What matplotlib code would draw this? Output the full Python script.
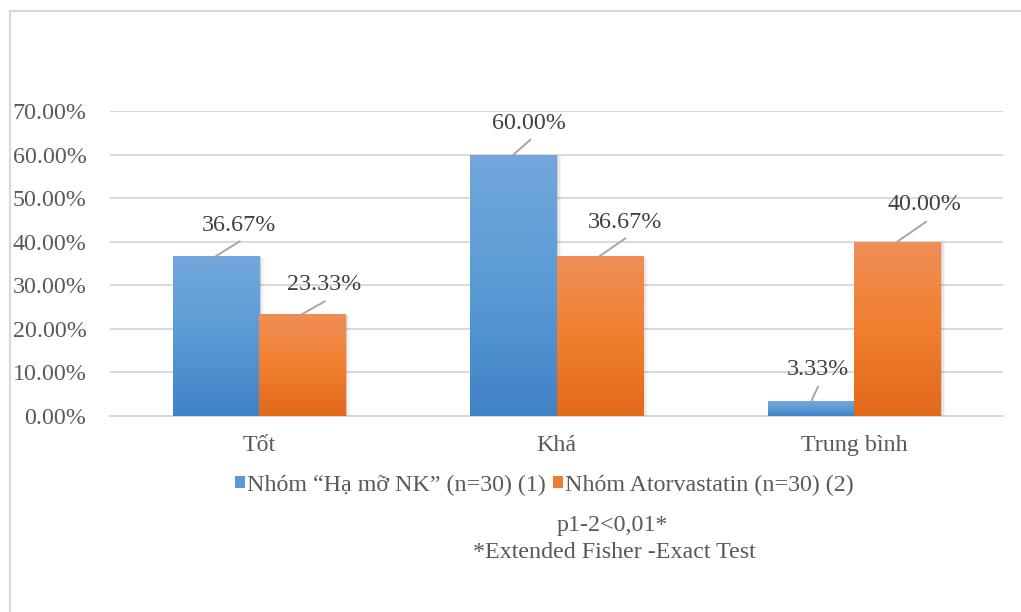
import matplotlib
matplotlib.use("Agg")
import matplotlib.pyplot as plt
import numpy as np
from matplotlib.colors import LinearSegmentedColormap
from matplotlib.lines import Line2D
from matplotlib.patches import Patch, Rectangle
from matplotlib.ticker import PercentFormatter

# ---- data ----
categories = ["Tốt", "Khá", "Trung bình"]
series_names = ["Nhóm “Hạ mỡ NK” (n=30) (1)", "Nhóm Atorvastatin (n=30) (2)"]
group_nk = [36.67, 60.00, 3.33]
group_atorva = [23.33, 36.67, 40.00]
y_ticks = [0, 10, 20, 30, 40, 50, 60, 70]
footnote_lines = ["p1-2<0,01*", "*Extended Fisher -Exact Test"]

# ---- style ----
FONT = "Liberation Serif"
plt.rcParams["font.family"] = [FONT, "DejaVu Serif"]
FS = 17.3
TICK_COLOR = "#595959"
LABEL_COLOR = "#404040"
GRID_COLOR = "#d9d9d9"
blue_stops = ["#3f82c6", "#5b9bd5", "#73a7dc"]     # bottom -> top
orange_stops = ["#e2691a", "#f07f2e", "#f08e58"]
flat_colors = ["#5b9bd5", "#ed7d31"]

# label text centre / leader end offsets (pixels from bar top centre)
text_offsets = [[(23, 31), (15, 31), (7, 32)], [(22, 30), (25, 34), (27, 37)]]
leader_offsets = [[(24, 15), (17, 15), (7, 15)], [(23, 13), (26, 18), (29, 20)]]

W, H, DPI = 1021, 612, 100
fig = plt.figure(figsize=(W / DPI, H / DPI), dpi=DPI)
ax = fig.add_axes([110 / W, 1 - 416 / H, (1003 - 110) / W, (416 - 111) / H])

x = np.arange(len(categories))
bw = 0.289
series = [group_nk, group_atorva]
gradients = [blue_stops, orange_stops]
grad_img = np.linspace(0, 1, 256).reshape(-1, 1)

for si, vals in enumerate(series):
    cmap = LinearSegmentedColormap.from_list(f"g{si}", gradients[si])
    xs = x + (si - 0.5) * bw
    bars = ax.bar(xs, vals, width=bw, color=flat_colors[si], zorder=3)
    for bi, b in enumerate(bars):
        x0, h = b.get_x(), b.get_height()
        # soft shadow on the right
        for k, a in enumerate([0.10, 0.06, 0.03]):
            off = (k + 1) * 0.006
            ax.add_patch(Rectangle((x0 + off, -0.15), bw, h + 0.15 - off * 20,
                                   facecolor="#000000", alpha=a, lw=0, zorder=2))
        im = ax.imshow(grad_img, cmap=cmap, origin="lower", aspect="auto",
                       extent=(x0, x0 + bw, 0, h), zorder=4, interpolation="bicubic")
        im.set_clip_path(b)
        # value label with leader line
        xc = x0 + bw / 2
        lx, ly = leader_offsets[si][bi]
        ax.annotate("", xy=(xc, h), xytext=(lx, ly), textcoords="offset pixels",
                    arrowprops=dict(arrowstyle="-", color="#a6a6a6", lw=1.4,
                                    shrinkA=0, shrinkB=0), zorder=5)
        tx, ty = text_offsets[si][bi]
        ax.annotate(f"{vals[bi]:.2f}%", xy=(xc, h), xytext=(tx, ty),
                    textcoords="offset pixels", ha="center", va="center",
                    fontsize=FS, color=LABEL_COLOR, zorder=6)

ax.set_xlim(-0.5, len(categories) - 0.5)
ax.set_ylim(0, 70)
ax.set_yticks(y_ticks)
ax.yaxis.set_major_formatter(PercentFormatter(decimals=2))
ax.set_xticks(x)
ax.set_xticklabels(categories)
ax.tick_params(axis="y", length=0, pad=17, labelsize=FS, labelcolor=TICK_COLOR)
ax.tick_params(axis="x", length=0, pad=14, labelsize=FS, labelcolor=TICK_COLOR)
ax.grid(axis="y", color=GRID_COLOR, lw=1.4, zorder=0)
for s in ["top", "right", "left"]:
    ax.spines[s].set_visible(False)
ax.spines["bottom"].set_color(GRID_COLOR)
ax.spines["bottom"].set_linewidth(1.4)
ax.spines["bottom"].set_zorder(1)

# legend
handles = [Patch(facecolor=c, edgecolor="none") for c in flat_colors]
fig.legend(handles, series_names, loc="center", bbox_to_anchor=(544 / W, 1 - 485 / H),
           ncol=2, frameon=False, fontsize=FS, handlelength=0.42, handleheight=0.42,
           handletextpad=0.08, columnspacing=0.3, labelcolor=TICK_COLOR)

# footnote
fig.text(612 / W, 1 - 525 / H, footnote_lines[0], ha="center", va="center",
         fontsize=FS, color=TICK_COLOR)
fig.text(614 / W, 1 - 553 / H, footnote_lines[1], ha="center", va="center",
         fontsize=FS, color=TICK_COLOR)

# outer chart frame
fig.add_artist(Line2D([9.5 / W, 9.5 / W], [0, 1 - 11 / H], color=GRID_COLOR, lw=1.5))
fig.add_artist(Line2D([9.5 / W, 1], [1 - 11 / H, 1 - 11 / H], color=GRID_COLOR, lw=1.5))

fig.savefig("out.png", dpi=DPI, facecolor="white")
